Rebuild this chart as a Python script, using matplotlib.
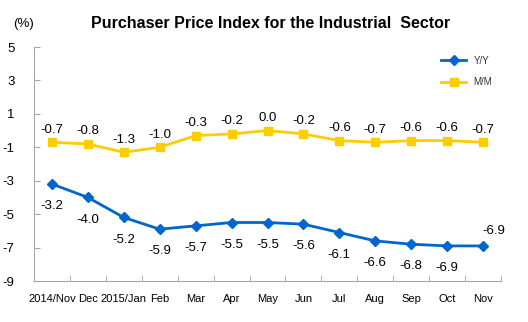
import matplotlib
matplotlib.use('Agg')
from matplotlib import pyplot as plt

months = ['2014/Nov', 'Dec', '2015/Jan', 'Feb', 'Mar', 'Apr', 'May',
          'Jun', 'Jul', 'Aug', 'Sep', 'Oct', 'Nov']
yy = [-3.2, -4.0, -5.2, -5.9, -5.7, -5.5, -5.5, -5.6, -6.1, -6.6, -6.8, -6.9, -6.9]
mm = [-0.7, -0.8, -1.3, -1.0, -0.3, -0.2, 0.0, -0.2, -0.6, -0.7, -0.6, -0.6, -0.7]
yticks = [-9, -7, -5, -3, -1, 1, 3, 5]

plt.rcParams['font.family'] = ['Liberation Sans', 'DejaVu Sans']

blue = '#0066CC'
gold = '#FFCC00'
grey = '#A6A6A6'

fig = plt.figure(figsize=(5.28, 3.22), dpi=100)
ax = fig.add_axes([34 / 528, 1 - 281 / 322, 467 / 528, 234 / 322])

x = list(range(len(months)))
ax.plot(x, yy, color=blue, lw=2, marker='D', ms=5, label='Y/Y')
ax.plot(x, mm, color=gold, lw=2, marker='s', ms=5.5, label='M/M')

for i, v in enumerate(mm):
    ax.annotate('%.1f' % v, (i, v), xytext=(0, 9), textcoords='offset points',
                ha='center', va='center', fontsize=9.5)
for i, v in enumerate(yy):
    if i == len(yy) - 1:
        ax.annotate('%.1f' % v, (i, v), xytext=(8, 11), textcoords='offset points',
                    ha='center', va='center', fontsize=9.5)
    else:
        ax.annotate('%.1f' % v, (i, v), xytext=(0, -16), textcoords='offset points',
                    ha='center', va='center', fontsize=9.5)

ax.set_xlim(-0.5, len(months) - 0.5)
ax.set_ylim(-9, 5)
ax.set_yticks(yticks)
ax.set_yticklabels([str(t) for t in yticks], fontsize=9.5)
ax.set_xticks(x)
ax.set_xticklabels(months, fontsize=8)
ax.set_xticks([i + 0.5 for i in range(-1, len(months))], minor=True)
ax.tick_params(axis='x', which='major', length=0, pad=9)
ax.tick_params(axis='x', which='minor', direction='in', length=4, color=grey)
ax.tick_params(axis='y', direction='in', length=4, color=grey, pad=14)

for s in ['top', 'right']:
    ax.spines[s].set_visible(False)
for s in ['left', 'bottom']:
    ax.spines[s].set_color(grey)

fig.text(271 / 528, 1 - 24 / 322, 'Purchaser Price Index for the Industrial  Sector',
         ha='center', va='center', fontsize=11.5, fontweight='bold')
fig.text(24 / 528, 1 - 24 / 322, '(%)', ha='center', va='center', fontsize=9.5)

leg = ax.legend(loc='upper right', bbox_to_anchor=(1.0, 1.0), frameon=False,
                handlelength=2.5, labelspacing=1.2, prop={'size': 7})
for t in leg.get_texts():
    t.set_color('#333333')

fig.savefig('out.png', dpi=100)
